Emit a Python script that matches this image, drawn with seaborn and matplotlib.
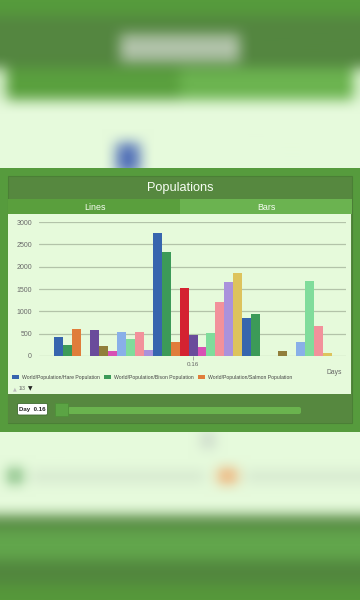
import numpy as np
import pandas as pd
import matplotlib
matplotlib.use("Agg")
import matplotlib.pyplot as plt
import seaborn as sns
from matplotlib.patches import Rectangle, FancyBboxPatch

# ---------------- data ----------------
bar_slots = [0, 1, 2, 4, 5, 6, 7, 8, 9, 10, 11, 12, 13, 14, 15, 16, 17, 18, 19, 20,
             21, 22, 25, 27, 28, 29, 30]
bar_values = [432, 246, 597, 575, 224, 112, 537, 373, 537, 134, 2746, 2336, 313, 1530,
              470, 209, 522, 1201, 1657, 1865, 851, 933, 112, 306, 1679, 679, 67]
bar_series = ["blue", "green", "orange", "purple", "olive", "magenta", "lightblue",
              "lightgreen", "salmon", "lavender", "blue", "green", "orange", "red",
              "purple", "magenta", "lightgreen", "salmon", "lavender", "gold", "blue",
              "green", "olive", "lightblue", "lightgreen", "salmon", "gold"]
n_slots = 31
x_tick_slot = [15]
x_tick_labels = ["0.16"]
y_ticks = [0, 500, 1000, 1500, 2000, 2500, 3000]
legend_labels = ["World/Population/Hare Population",
                 "World/Population/Bison Population",
                 "World/Population/Salmon Population"]

series_colors = {
    "blue": "#3765ae", "green": "#3c9a58", "orange": "#e07d3a", "red": "#d42231",
    "purple": "#6a4b9b", "olive": "#917e3b", "magenta": "#d850b4",
    "lightblue": "#89afe8", "lightgreen": "#80dc9b", "salmon": "#f2919b",
    "lavender": "#aa92dc", "gold": "#ddc35d",
}

slot_names = [f"s{i:02d}" for i in range(n_slots)]
df = pd.DataFrame({
    "slot": [slot_names[s] for s in bar_slots],
    "value": bar_values,
})
palette = {slot_names[s]: series_colors[c] for s, c in zip(bar_slots, bar_series)}

# ---------------- background (decorative blurred page) ----------------
H, W = 600, 360
img = np.zeros((H, W, 3))
light = np.array([230, 250, 220])
img[:, :] = light
img[0:16] = [86, 155, 60]
img[16:68] = [84, 134, 64]
img[34:62, 120:240] = [176, 194, 168]
img[68:100, 6:180] = [90, 160, 62]
img[68:100, 180:354] = [108, 180, 80]
img[143:174, 116:140] = [85, 115, 185]
img[469:483, 8:22] = [110, 175, 110]
img[469:483, 218:237] = [240, 170, 110]
img[473:480, 30:205] = [205, 222, 200]
img[473:480, 245:360] = [205, 222, 200]
img[432:448, 202:214] = [200, 212, 200]
img[515:530] = [88, 140, 68]
img[530:560] = [98, 166, 76]
img[560:585] = [82, 135, 62]
img[585:600] = [86, 152, 58]


def box_blur(a, r):
    out = a.copy()
    for axis in (0, 1):
        pad = [(0, 0)] * 3
        pad[axis] = (r + 1, r)
        p = np.pad(out, pad, mode="edge")
        c = np.cumsum(p, axis=axis)
        if axis == 0:
            out = (c[2 * r + 1:] - c[:-2 * r - 1]) / (2 * r + 1)
        else:
            out = (c[:, 2 * r + 1:] - c[:, :-2 * r - 1]) / (2 * r + 1)
    return out


img = box_blur(box_blur(img, 7), 7) / 255.0

sns.set_theme(style="white")
plt.rcParams["font.family"] = ["Liberation Sans", "DejaVu Sans"]

fig = plt.figure(figsize=(3.6, 6), dpi=100)
bg = fig.add_axes([0, 0, 1, 1])
bg.imshow(img, extent=(0, 360, 600, 0), aspect="auto", interpolation="bilinear")
bg.set_xlim(0, 360)
bg.set_ylim(600, 0)
bg.axis("off")


def rect(x0, y0, x1, y1, color, **kw):
    bg.add_patch(Rectangle((x0, y0), x1 - x0, y1 - y0, facecolor=color,
                           edgecolor=kw.pop("ec", "none"), lw=kw.pop("lw", 0), **kw))


# frame and panel
rect(0, 168, 360, 432, "#569b3d")
rect(8, 176, 352, 423, "#56883f", ec="#4b7f36", lw=0.8)
rect(8, 199, 180, 214, "#5a9f3d")
rect(180, 199, 352, 214, "#6bb350")
rect(8, 214, 350.5, 394, "#e6fadb")
rect(8, 394, 352, 423, "#56883f")

bg.text(180, 188, "Populations", color="#f7fdf3", fontsize=9.2, ha="center",
        va="center")
bg.text(95, 207, "Lines", color="#f7fdf3", fontsize=6.4, ha="center", va="center")
bg.text(266, 207, "Bars", color="#f7fdf3", fontsize=6.4, ha="center", va="center")

# slider
bg.add_patch(FancyBboxPatch((68, 407), 233, 7, boxstyle="round,pad=0,rounding_size=2",
                            facecolor="#6ab34e", edgecolor="none"))
rect(55, 403, 68, 416, "#5ba444", ec="#4f9139", lw=0.6)
bg.add_patch(FancyBboxPatch((17.5, 403.5), 30, 11.5,
                            boxstyle="round,pad=0,rounding_size=1.5",
                            facecolor="white", edgecolor="#3f6b30", lw=0.6))
bg.text(32.5, 409.3, "Day  0.16", fontsize=4.4, ha="center", va="center",
        fontweight="bold", color="#222222")

# legend
leg_x = [12, 104, 198]
for lx, lab, c in zip(leg_x, legend_labels, ["blue", "green", "orange"]):
    rect(lx, 374.5, lx + 7, 379, series_colors[c])
    bg.text(lx + 10, 377, lab, fontsize=3.7, ha="left", va="center", color="#444444")
bg.text(14.5, 388.5, "▲", fontsize=3.5, ha="center", va="center", color="#bbbbbb",
        family="DejaVu Sans")
bg.text(19, 388.5, "1/3", fontsize=3.6, ha="left", va="center", color="#666666")
bg.text(30.5, 388.5, "▼", fontsize=4.2, ha="center", va="center", color="#222222",
        family="DejaVu Sans")
bg.text(334, 372, "Days", fontsize=4.9, ha="center", va="center", color="#666666")

# ---------------- chart ----------------
ax = fig.add_axes([39 / 360, 1 - 356 / 600, 307 / 360, 134 / 600])
ax.set_facecolor("none")
sns.barplot(data=df, x="slot", y="value", hue="slot", order=slot_names,
            palette=palette, dodge=False, width=1.0, legend=False, ax=ax,
            linewidth=0, saturation=1)
ax.set_xlim(-2.21, 32.09)
ax.set_ylim(0, 3000)
ax.set_yticks(y_ticks)
ax.set_yticklabels([str(v) for v in y_ticks])
ax.set_xticks(x_tick_slot)
ax.set_xticklabels(x_tick_labels)
ax.set_axisbelow(True)
ax.yaxis.grid(True, color="#b3c3a9", lw=0.9)
ax.xaxis.grid(False)
for s in ax.spines.values():
    s.set_visible(False)
ax.set_xlabel("")
ax.set_ylabel("")
ax.tick_params(axis="y", length=0, pad=5, labelsize=5.0, labelcolor="#6a6a6a")
ax.tick_params(axis="x", length=3, width=0.6, color="#9a9a9a", labelsize=4.5,
               pad=1.5, labelcolor="#666666", bottom=True)

fig.savefig("out.png", dpi=100)
